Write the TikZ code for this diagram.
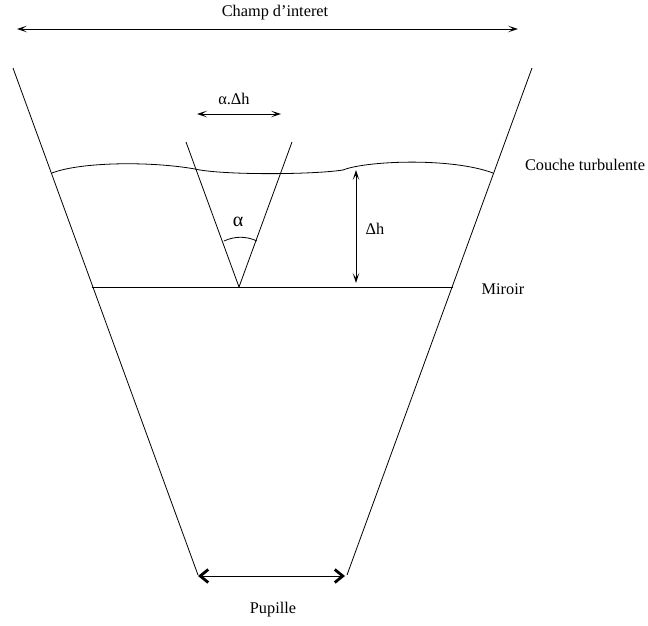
\documentclass[tikz,border=0pt]{standalone}
\usepackage{fontspec}
\setmainfont{Liberation Serif}
\usetikzlibrary{arrows.meta}

\begin{document}
\begin{tikzpicture}[x=1pt,y=-1pt,line width=0.8pt,
		lab/.style={inner sep=0pt,font=\fontsize{16.3}{18}\selectfont},
		thinarrow/.style={{Stealth[length=10pt,width=6.5pt,inset=5pt]}-{Stealth[length=10pt,width=6.5pt,inset=5pt]}},
		thickarrow/.style={{Straight Barb[length=8pt,width=13pt,line width=2.8pt]}-{Straight Barb[length=8pt,width=13pt,line width=2.8pt]}}]
		\useasboundingbox (0,0) rectangle (648,625);

		\coordinate (champL)	at (17,29);
		\coordinate (champR)	at (518,29);
		\coordinate (bordL)		at (13,68);
		\coordinate (bordR)		at (532,68);
		\coordinate (pupL)		at (198,575);
		\coordinate (pupR)		at (347,575);
		\coordinate (flecheL)	at (198,576);
		\coordinate (flecheR)	at (345,576);
		\coordinate (miroirL)	at (92,287);
		\coordinate (miroirR)	at (453,287);
		\coordinate (apex)		at (239,287);
		\coordinate (coneL)		at (186,142);
		\coordinate (coneR)		at (292,142);
		\coordinate (alphaL)	at (197,114);
		\coordinate (alphaR)	at (281,114);
		\coordinate (hautH)		at (356,170);
		\coordinate (basH)		at (356,283);
		\coordinate (coucheL)	at (52,173);
		\coordinate (coucheR)	at (493,173);
		\coordinate (arcL)		at (224,241);
		\coordinate (arcR)		at (257,241);

		\node[lab]	(champ)		at (275,13)		{Champ d’interet};
		\node[lab]	(alphadh)	at (234,99)		{α.Δh};
		\node[lab,font=\fontsize{20}{22}\selectfont]	(alpha)	at (238,222)	{α};
		\node[lab]	(dh)		at (375,229)	{Δh};
		\node[lab]	(couche)	at (585,165)	{Couche turbulente};
		\node[lab]	(miroir)	at (503,289)	{Miroir};
		\node[lab]	(pupille)	at (273,610)	{Pupille};

		\draw[thinarrow] (champL) -- (champR);
		\draw (bordL) -- (pupL);
		\draw (bordR) -- (pupR);
		\draw (miroirL) -- (miroirR);
		\draw (coneL) -- (apex);
		\draw (apex) -- (coneR);
		\draw[thinarrow] (alphaL) -- (alphaR);
		\draw[thinarrow] (hautH) -- (basH);
		\draw[thickarrow] (flecheL) -- (flecheR);
		\draw (arcL) .. controls (235,236) and (246,236) .. (arcR);
		\draw (coucheL) .. controls (80,162) and (150,161) .. (195,169)
			.. controls (220,175) and (310,175) .. (343,170)
			.. controls (365,161) and (450,157) .. (coucheR);
	\end{tikzpicture}
\end{document}
